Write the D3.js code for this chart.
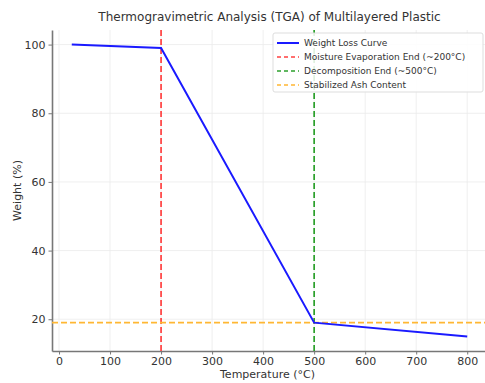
<!DOCTYPE html>
<html>
<head>
<meta charset="utf-8">
<script src="https://cdn.jsdelivr.net/npm/d3@7"></script>
<style>
  body { margin: 0; background: #fff; }
  text { font-family: "DejaVu Sans", sans-serif; fill: #333; }
</style>
</head>
<body>
<svg width="485" height="383"></svg>
<script>
// data
var temps = [25, 200, 500, 800];
var weights = [100, 99, 19, 15];
var moistureEnd = 200;
var decompEnd = 500;
var ashContent = 19;
var xTicks = [0, 100, 200, 300, 400, 500, 600, 700, 800];
var yTicks = [20, 40, 60, 80, 100];
var legendLabels = ["Weight Loss Curve", "Moisture Evaporation End (~200°C)",
    "Decomposition End (~500°C)", "Stabilized Ash Content"];

var svg = d3.select("svg"),
    margin = { top: 30, right: -2, bottom: 32, left: 52 },
    width = +svg.attr("width") - margin.left - margin.right,
    height = +svg.attr("height") - margin.top - margin.bottom,
    g = svg.append("g").attr("transform", "translate(" + margin.left + "," + margin.top + ")");

var x = d3.scaleLinear().domain([-13.75, 838.75]).range([0, width]);
var y = d3.scaleLinear().domain([10.75, 104.25]).range([height, 0]);

// grid
g.selectAll(".gx").data(xTicks).enter().append("line")
    .attr("x1", function (d) { return x(d); })
    .attr("x2", function (d) { return x(d); })
    .attr("y1", 0).attr("y2", height)
    .attr("stroke", "#ebebeb").attr("stroke-width", 0.8);
g.selectAll(".gy").data(yTicks).enter().append("line")
    .attr("y1", function (d) { return y(d); })
    .attr("y2", function (d) { return y(d); })
    .attr("x1", 0).attr("x2", width)
    .attr("stroke", "#ebebeb").attr("stroke-width", 0.8);

// axes
var xAxis = g.append("g")
    .attr("transform", "translate(0," + height + ")")
    .call(d3.axisBottom(x).tickValues(xTicks).tickSizeInner(3.5).tickSizeOuter(0).tickPadding(3));
var yAxis = g.append("g")
    .call(d3.axisLeft(y).tickValues(yTicks).tickSizeInner(3.5).tickSizeOuter(0).tickPadding(3));
[xAxis, yAxis].forEach(function (a) {
    a.select(".domain").attr("stroke", "#777").attr("stroke-width", 1.6);
    a.selectAll(".tick line").attr("stroke", "#777");
    a.selectAll(".tick text").style("font-size", "11px").attr("fill", "#333");
});

// reference lines
var dash = "6,3";
g.append("line")
    .attr("x1", x(moistureEnd)).attr("x2", x(moistureEnd))
    .attr("y1", 0).attr("y2", height)
    .attr("stroke", "#ff4040").attr("stroke-width", 1.7).attr("stroke-dasharray", dash);
g.append("line")
    .attr("x1", x(decompEnd)).attr("x2", x(decompEnd))
    .attr("y1", 0).attr("y2", height)
    .attr("stroke", "#2ca02c").attr("stroke-width", 1.7).attr("stroke-dasharray", dash);
g.append("line")
    .attr("x1", 0).attr("x2", width)
    .attr("y1", y(ashContent)).attr("y2", y(ashContent))
    .attr("stroke", "#ffb733").attr("stroke-width", 1.7).attr("stroke-dasharray", dash);

// curve
var line = d3.line()
    .x(function (d, i) { return x(temps[i]); })
    .y(function (d) { return y(d); });
g.append("path")
    .datum(weights)
    .attr("d", line)
    .attr("fill", "none")
    .attr("stroke", "#1a1aff")
    .attr("stroke-width", 2);

// titles
svg.append("text")
    .attr("x", margin.left + width / 2).attr("y", 21)
    .attr("text-anchor", "middle")
    .style("font-size", "12px")
    .text("Thermogravimetric Analysis (TGA) of Multilayered Plastic");
svg.append("text")
    .attr("x", margin.left + width / 2 - 2).attr("y", 378)
    .attr("text-anchor", "middle")
    .style("font-size", "11px")
    .text("Temperature (°C)");
svg.append("text")
    .attr("transform", "translate(21," + (margin.top + height / 2) + ") rotate(-90)")
    .attr("text-anchor", "middle")
    .style("font-size", "11px")
    .text("Weight (%)");

// legend
var legend = svg.append("g").attr("transform", "translate(273,33)");
legend.append("rect")
    .attr("width", 210).attr("height", 59).attr("rx", 2)
    .attr("fill", "#fff").attr("fill-opacity", 0.85)
    .attr("stroke", "#ddd");
var legendStyles = [
    { color: "#1a1aff", dash: null, w: 2 },
    { color: "#ff4040", dash: "4,3", w: 1.6 },
    { color: "#2ca02c", dash: "4,3", w: 1.6 },
    { color: "#ffb733", dash: "4,3", w: 1.6 }
];
var item = legend.selectAll(".item").data(legendLabels).enter().append("g")
    .attr("transform", function (d, i) { return "translate(0," + (10 + i * 14) + ")"; });
item.append("line")
    .attr("x1", 4).attr("x2", 26)
    .attr("stroke", function (d, i) { return legendStyles[i].color; })
    .attr("stroke-width", function (d, i) { return legendStyles[i].w; })
    .attr("stroke-dasharray", function (d, i) { return legendStyles[i].dash; });
item.append("text")
    .attr("x", 31).attr("dy", "0.35em")
    .style("font-size", "9px")
    .text(function (d) { return d; });
</script>
</body>
</html>
